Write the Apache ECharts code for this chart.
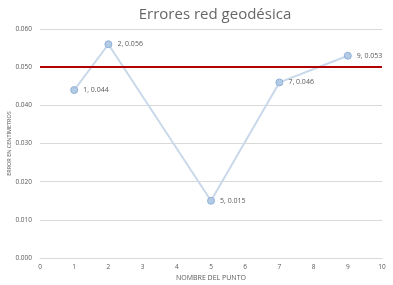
<!DOCTYPE html>
<html lang="es">
<head>
    <meta charset="UTF-8">
    <title>Errores red geodésica</title>
    <style>
        body { margin: 0; background: #fff; }
        #chart { width: 393px; height: 285px; }
    </style>
    <script src="https://cdn.jsdelivr.net/npm/echarts/dist/echarts.min.js"></script>
</head>
<body>
<div id="chart"></div>
<script>
    // Data
    var puntos = [1, 2, 5, 7, 9];
    var errores = [0.044, 0.056, 0.015, 0.046, 0.053];
    var tolerancia = 0.050;

    var chart = echarts.init(document.getElementById('chart'));
    var gris = '#595959';
    var fuente = 'Open Sans, Lato, sans-serif';

    chart.setOption({
        animation: false,
        textStyle: { fontFamily: fuente },
        title: {
            text: 'Errores red geodésica',
            left: 210, top: 2, textAlign: 'center',
            textStyle: { fontSize: 15, fontWeight: 'normal', color: '#666', fontFamily: fuente }
        },
        grid: { left: 40, right: 11, top: 29, bottom: 27, outerBoundsMode: 'none', containLabel: false },
        xAxis: {
            type: 'value', min: 0, max: 10, interval: 1,
            name: 'NOMBRE DEL PUNTO', nameLocation: 'middle', nameGap: 16, nameMoveOverlap: false,
            nameTextStyle: { fontSize: 7, color: gris },
            axisLine: { show: true, lineStyle: { color: '#d9d9d9' } },
            axisTick: { show: false },
            splitLine: { show: false },
            axisLabel: { fontSize: 6.5, color: gris, margin: 6 }
        },
        yAxis: {
            type: 'value', min: 0, max: 0.06, interval: 0.01,
            name: 'ERROR EN CENTÍMETROS', nameLocation: 'middle', nameGap: 28, nameMoveOverlap: false,
            nameTextStyle: { fontSize: 5.5, color: gris },
            axisLine: { show: false },
            axisTick: { show: false },
            splitLine: { lineStyle: { color: '#d9d9d9' } },
            axisLabel: { fontSize: 6.5, color: gris, margin: 8, formatter: function (v) { return v.toFixed(3); } }
        },
        series: [{
            type: 'line',
            data: puntos.map(function (p, i) { return [p, errores[i]]; }),
            symbol: 'circle', symbolSize: 7,
            lineStyle: { color: '#c9d8ea', width: 2 },
            itemStyle: { color: '#b4cbe6', borderColor: '#8fb0d8', borderWidth: 1 },
            label: {
                show: true, position: 'right', distance: 5,
                fontSize: 7, color: gris,
                formatter: function (p) { return p.value[0] + ', ' + p.value[1].toFixed(3); }
            },
            markLine: {
                silent: true, symbol: 'none',
                label: { show: false },
                lineStyle: { color: '#b00000', width: 2, type: 'solid' },
                data: [{ yAxis: tolerancia }]
            }
        }]
    });
</script>
</body>
</html>
